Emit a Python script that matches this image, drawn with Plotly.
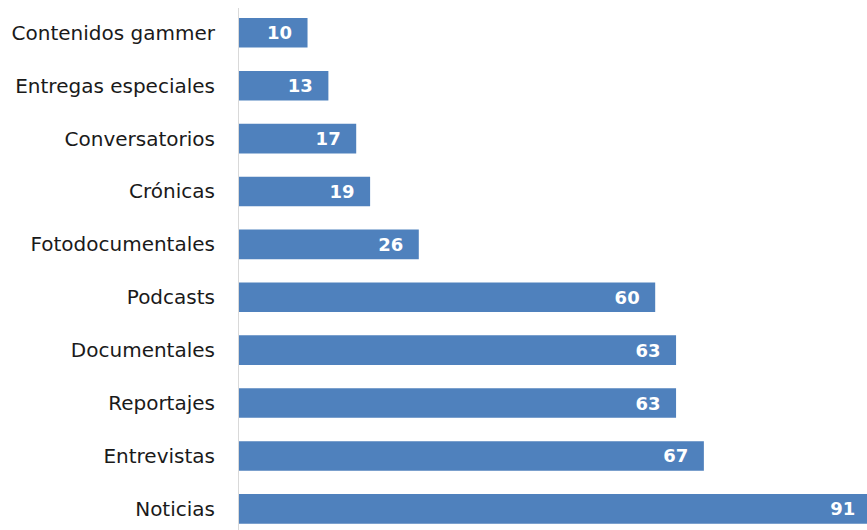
import plotly.graph_objects as go

# Number of published pieces per content type
categories = [
    "Contenidos gammer", "Entregas especiales", "Conversatorios", "Crónicas",
    "Fotodocumentales", "Podcasts", "Documentales", "Reportajes",
    "Entrevistas", "Noticias",
]
values = [10, 13, 17, 19, 26, 60, 63, 63, 67, 91]

BAR_COLOR = "#4f81bd"
FONT = "DejaVu Sans"
NBSP = "\u00a0"

fig = go.Figure()

# bars with their value written inside, near the end of the bar
fig.add_trace(
    go.Bar(
        x=values,
        y=categories,
        orientation="h",
        marker=dict(color=BAR_COLOR, line=dict(width=0)),
        width=0.56,
        text=[f"{v}{NBSP * 2}" for v in values],
        textposition="inside",
        insidetextanchor="end",
        textangle=0,
        constraintext="none",
        insidetextfont=dict(family=FONT, size=18, color="white", weight="bold"),
        cliponaxis=True,
        hoverinfo="x+y",
    )
)

# vertical baseline at zero
fig.add_shape(
    type="line", xref="x", yref="paper",
    x0=0, x1=0, y0=0, y1=0.985,
    line=dict(color="#d9d9d9", width=2),
)

fig.update_layout(
    width=867, height=530,
    margin=dict(l=238, r=0, t=0, b=0),
    paper_bgcolor="white", plot_bgcolor="white",
    showlegend=False,
    font=dict(family=FONT, size=20, color="#1a1a1a"),
    uniformtext=dict(mode=False),
    xaxis=dict(
        range=[0, 90.46], showgrid=False, zeroline=False,
        showticklabels=False, showline=False, ticks="",
    ),
    yaxis=dict(
        categoryorder="array", categoryarray=categories,
        range=[9.4, -0.62], showgrid=False, zeroline=False,
        showline=False, ticks="", ticklabelstandoff=22,
    ),
)

fig.write_html("out.html")
